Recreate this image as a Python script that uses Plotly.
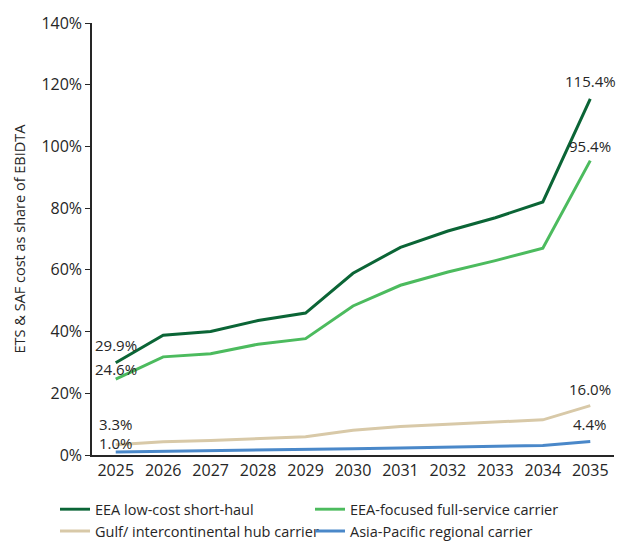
import plotly.graph_objects as go

years = [str(y) for y in range(2025, 2036)]

low_cost = [29.9, 38.8, 40.0, 43.6, 46.0, 58.9, 67.3, 72.6, 76.9, 82.0, 115.4]
full_service = [24.6, 31.8, 32.8, 35.9, 37.7, 48.3, 55.0, 59.3, 63.0, 67.0, 95.4]
gulf_hub = [3.3, 4.3, 4.7, 5.3, 5.9, 8.0, 9.2, 10.0, 10.7, 11.4, 16.0]
asia_pacific = [1.0, 1.2, 1.3, 1.4, 1.6, 2.0, 2.3, 2.6, 2.8, 3.1, 4.4]

series = [
    ("EEA low-cost short-haul", low_cost, "#0b6536", (18, 18)),
    ("EEA-focused full-service carrier", full_service, "#4cbb5e", (10, 15)),
    ("Gulf/ intercontinental hub carrier", gulf_hub, "#d8c9a8", (21, 17)),
    ("Asia-Pacific regional carrier", asia_pacific, "#4a88c9", (9, 17)),
]

FONT = "Open Sans"
TEXT_COLOR = "#262626"

fig = go.Figure()
annotations = []
for name, vals, color, (shift_first, shift_last) in series:
    fig.add_trace(go.Scatter(
        x=years, y=vals, name=name, mode="lines",
        line=dict(color=color, width=3),
    ))
    # value labels on the first and last year (category index positions)
    for idx, shift in ((0, shift_first), (len(vals) - 1, shift_last)):
        annotations.append(dict(
            x=idx, y=vals[idx], text=f"{vals[idx]:.1f}%",
            showarrow=False, yshift=shift, yanchor="middle",
            font=dict(family=FONT, size=15, color=TEXT_COLOR),
        ))

fig.update_layout(
    width=628, height=545,
    margin=dict(l=92, r=14, t=18, b=90),
    paper_bgcolor="white", plot_bgcolor="white",
    font=dict(family=FONT, size=16, color=TEXT_COLOR),
    showlegend=True,
    legend=dict(
        orientation="h", x=55 / 628, xref="container", y=0.095, yref="container",
        xanchor="left", yanchor="top",
        entrywidth=210, entrywidthmode="pixels",
        font=dict(family=FONT, size=14.5, color=TEXT_COLOR),
        tracegroupgap=0, itemwidth=30,
    ),
    annotations=annotations,
    xaxis=dict(
        type="category", range=[-0.5, 10.5],
        showline=True, linecolor="#262626", linewidth=1.5,
        ticks="", showgrid=False, zeroline=False,
        tickfont=dict(size=16),
    ),
    yaxis=dict(
        range=[0, 140], dtick=20, ticksuffix="%",
        showline=True, linecolor="#262626", linewidth=1.5,
        ticks="outside", ticklen=5, tickcolor="#262626", tickwidth=1,
        showgrid=False, zeroline=False,
        tickfont=dict(size=16),
        title=dict(text="ETS & SAF cost as share of EBIDTA", font=dict(size=14.5), standoff=12),
    ),
)

fig.write_html("out.html")
